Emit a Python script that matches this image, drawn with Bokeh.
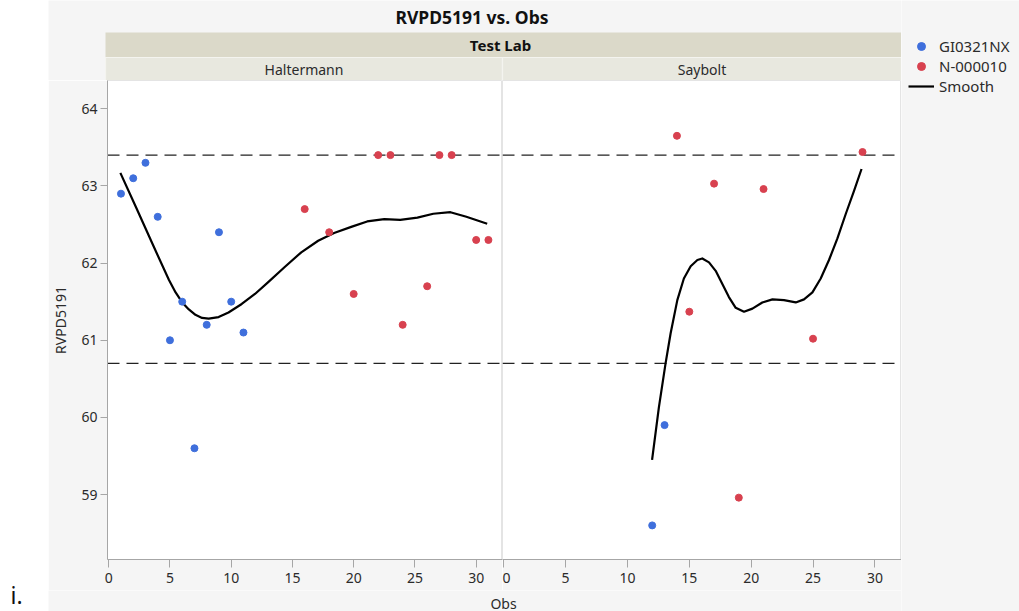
from bokeh.plotting import figure
from bokeh.layouts import row, column
from bokeh.models import Range1d, Span, FixedTicker, Legend, LegendItem
from bokeh.core.properties import value
from bokeh.embed import file_html
from bokeh.resources import INLINE

# ---------------- data ----------------
title_text = "RVPD5191 vs. Obs"
group_title = "Test Lab"
panel_names = ["Haltermann", "Saybolt"]
series_names = ["GI0321NX", "N-000010"]
smooth_name = "Smooth"
x_label = "Obs"
y_label = "RVPD5191"
x_ticks = [0, 5, 10, 15, 20, 25, 30]
y_ticks = [59, 60, 61, 62, 63, 64]
limit_values = [63.4, 60.7]

hal_blue_obs = [1, 2, 3, 4, 5, 6, 7, 8, 9, 10, 11]
hal_blue_rvp = [62.9, 63.1, 63.3, 62.6, 61.0, 61.5, 59.6, 61.2, 62.4, 61.5, 61.1]
hal_red_obs = [16, 18, 20, 22, 23, 24, 26, 27, 28, 30, 31]
hal_red_rvp = [62.7, 62.4, 61.6, 63.4, 63.4, 61.2, 61.7, 63.4, 63.4, 62.3, 62.3]
hal_smooth_obs = [0.95, 2.21, 3.57, 4.92, 5.46, 6.0, 6.54, 7.08, 7.62, 8.16, 8.97, 9.78,
                  10.86, 11.94, 13.0, 14.37, 15.72, 17.1, 18.4, 19.8, 21.1, 22.5,
                  23.8, 25.2, 26.5, 27.9, 29.2, 30.9]
hal_smooth_rvp = [63.17, 62.73, 62.25, 61.78, 61.62, 61.49, 61.40, 61.33, 61.29, 61.28, 61.30, 61.36,
                  61.47, 61.60, 61.75, 61.95, 62.14, 62.29, 62.39, 62.47, 62.54, 62.57,
                  62.56, 62.59, 62.64, 62.66, 62.60, 62.51]

say_blue_obs = [12, 13]
say_blue_rvp = [58.6, 59.9]
say_red_obs = [14, 15, 17, 19, 21, 25, 29]
say_red_rvp = [63.65, 61.37, 63.03, 58.96, 62.96, 61.02, 63.44]
say_smooth_obs = [11.99, 12.54, 13.08, 13.49, 14.03, 14.56, 15.11, 15.65, 16.05, 16.59,
                  17.13, 17.67, 18.2, 18.75, 19.42, 20.1, 20.9, 21.72, 22.65, 23.6,
                  24.27, 24.95, 25.62, 26.29, 26.97, 27.65, 28.32, 28.92]
say_smooth_rvp = [59.45, 60.13, 60.70, 61.09, 61.52, 61.80, 61.96, 62.04, 62.06, 62.01,
                  61.90, 61.73, 61.56, 61.42, 61.37, 61.41, 61.49, 61.53, 61.52, 61.49,
                  61.53, 61.62, 61.80, 62.04, 62.32, 62.64, 62.94, 63.22]

# ---------------- style ----------------
FONT = "Noto Sans"
BG = "#f5f5f5"
BLUE = "#3f6fdc"
RED = "#d8414f"
TXT = "#2b2b2b"
AX = "#a6a6a6"
Y0, Y1 = 58.158, 64.367
X0, X1 = -0.1, 32.15
NAN = float("nan")


def style_axis(ax, ticks):
    ax.ticker = FixedTicker(ticks=ticks)
    ax.axis_line_color = AX
    ax.major_tick_line_color = AX
    ax.major_tick_in = 0
    ax.minor_tick_line_color = None
    ax.major_label_text_font = FONT
    ax.major_label_text_font_size = "14px"
    ax.major_label_text_color = TXT


def panel(width, left_border, show_y, bx, by, rx, ry, sx, sy):
    p = figure(width=width, height=510, x_range=Range1d(X0, X1), y_range=Range1d(Y0, Y1),
               output_backend="svg", toolbar_location=None,
               min_border_left=left_border, min_border_right=0, min_border_top=0,
               min_border_bottom=31,
               y_axis_location="left" if show_y else None,
               background_fill_color="white", border_fill_color=BG,
               outline_line_color="#e4e4e4")
    p.grid.visible = False
    style_axis(p.xaxis[0], x_ticks)
    p.xaxis[0].major_tick_out = 8
    p.xaxis[0].major_label_standoff = 5
    if show_y:
        ya = p.yaxis[0]
        style_axis(ya, y_ticks)
        ya.major_tick_out = 7
        ya.major_label_standoff = 3
        ya.axis_label = y_label
        ya.axis_label_text_font = FONT
        ya.axis_label_text_font_size = "14px"
        ya.axis_label_text_font_style = "normal"
        ya.axis_label_text_color = TXT
        ya.axis_label_standoff = 8
    for v in limit_values:
        p.add_layout(Span(location=v, dimension="width", line_color="#222222",
                          line_dash="12 7", line_width=1.3, level="underlay"))
    p.line(sx, sy, line_color="black", line_width=2.2, line_join="round")
    p.scatter(bx, by, size=7, color=BLUE)
    p.scatter(rx, ry, size=7, color=RED)
    return p


left = panel(454, 57, True, hal_blue_obs, hal_blue_rvp, hal_red_obs, hal_red_rvp,
             hal_smooth_obs, hal_smooth_rvp)
right = panel(399, 0, False, say_blue_obs, say_blue_rvp, say_red_obs, say_red_rvp,
              say_smooth_obs, say_smooth_rvp)


def pixfig(w, h, x0, x1, y0, y1, bg):
    f = figure(width=w, height=h, x_range=Range1d(x0, x1), y_range=Range1d(y1, y0),
               output_backend="svg", toolbar_location=None,
               x_axis_location=None, y_axis_location=None,
               min_border=0, background_fill_color=bg, border_fill_color=bg,
               outline_line_color=None)
    f.grid.visible = False
    return f


# header (page pixel coordinates)
header = pixfig(853, 80, 48, 901, 0, 80, BG)
header.quad(left=[105], right=[901], top=[32], bottom=[56.5], fill_color="#dbd9c9", line_color=None)
header.quad(left=[105, 502], right=[502, 901], top=[57, 57], bottom=[80, 80],
            fill_color="#e8e8df", line_color="#f4f4ef", line_width=1.2)
header.text(x=[471.5], y=[16.5], text=[title_text], text_align="center", text_baseline="middle",
            text_font=value(FONT), text_font_size="17.5px", text_font_style="bold", text_color="#111111")
header.text(x=[500], y=[44.5], text=[group_title], text_align="center", text_baseline="middle",
            text_font=value(FONT), text_font_size="15px", text_font_style="bold", text_color="#111111")
header.text(x=[303.5, 701.5], y=[69, 69], text=panel_names, text_align="center", text_baseline="middle",
            text_font=value(FONT), text_font_size="14px", text_color=TXT)

# footer
footer = pixfig(853, 21, 48, 901, 590, 611, BG)
footer.text(x=[503], y=[602.5], text=[x_label], text_align="center", text_baseline="middle",
            text_font=value(FONT), text_font_size="14px", text_color=TXT)

# left white strip
strip = pixfig(48, 611, 0, 48, 0, 611, "white")
strip.text(x=[10], y=[594], text=["i."], text_align="left", text_baseline="middle",
           text_font=value(FONT), text_font_size="23px", text_color="#111111")

# legend
lf = pixfig(118, 611, 901, 1019, 0, 611, BG)
rb = lf.scatter(x=[NAN], y=[NAN], size=7, color=BLUE)
rr = lf.scatter(x=[NAN], y=[NAN], size=7, color=RED)
rl = lf.line(x=[NAN], y=[NAN], line_color="black", line_width=2.2)
legend = Legend(items=[LegendItem(label=series_names[0], renderers=[rb]),
                       LegendItem(label=series_names[1], renderers=[rr]),
                       LegendItem(label=smooth_name, renderers=[rl])],
                location=(7, 515), padding=0, margin=0, spacing=0,
                label_height=20, glyph_height=20, glyph_width=26, label_standoff=5,
                border_line_color=None, background_fill_alpha=0,
                label_text_font=FONT, label_text_font_size="15px", label_text_color=TXT)
lf.add_layout(legend)

layout = row(strip, column(header, row(left, right), footer), lf)
open("out.html", "w").write(file_html(layout, INLINE))
